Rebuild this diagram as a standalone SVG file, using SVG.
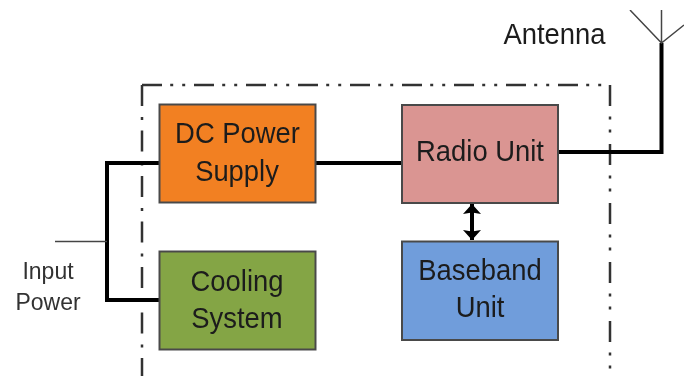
<svg xmlns="http://www.w3.org/2000/svg" width="684" height="376" viewBox="0 0 684 376">
<style>
text{font-family:"Liberation Sans",Arial,sans-serif;font-size:27.4px;fill:#1c1c1c;text-anchor:middle}
.small{font-size:23px;fill:#333}
.box{stroke:#4a4a4a;stroke-width:2}
.wire{fill:none;stroke:#000;stroke-width:4}
.thin{fill:none;stroke:#444;stroke-width:1.500}
.bd{fill:none;stroke:#333;stroke-width:2.500}
</style>
<defs>
<filter id="soft" x="0" y="0" width="100%" height="100%"><feGaussianBlur stdDeviation="0.45"/></filter>
<marker id="ah" viewBox="0 0 10 18" refX="10" refY="9" markerUnits="userSpaceOnUse" markerWidth="10" markerHeight="18" orient="auto-start-reverse">
<path d="M10 9 L0 0 L1.500 9 L0 18Z" fill="#000"/>
</marker>
</defs>
<rect width="684" height="376" fill="#fff"/>
<g filter="url(#soft)">
<g id="boundary">
<path class="bd" d="M142 85H610" stroke-dasharray="20 8.200 3 9 3 8.800"/>
<path class="bd" d="M142 85V376" stroke-dasharray="21 11 3 10.500"/>
<path class="bd" d="M610 85V376" stroke-dasharray="21 10.500 3 10 3 11.500"/>
</g>
<g id="connectors">
<path class="wire" d="M160 163H107V300H160"/>
<path class="thin" d="M55 241.500H107"/>
<path class="wire" d="M315 163H402"/>
<path class="wire" d="M558 152H661.500V43"/>
<path class="thin" d="M661.500 10V43M630 10L661.500 43L684 25"/>
<path d="M472 204V240" fill="none" stroke="#000" stroke-width="4" marker-start="url(#ah)" marker-end="url(#ah)"/>
</g>
<g id="dc-power-supply">
<rect class="box" x="159.500" y="104.500" width="156" height="98" fill="#f28024"/>
<text transform="translate(237.500 143) scale(1 1.080)">DC Power</text>
<text transform="translate(237 181) scale(1 1.080)">Supply</text>
</g>
<g id="cooling-system">
<rect class="box" x="159.500" y="251.500" width="156" height="98" fill="#84a545"/>
<text transform="translate(237 291) scale(1 1.080)">Cooling</text>
<text transform="translate(237 328) scale(1 1.080)">System</text>
</g>
<g id="radio-unit">
<rect class="box" x="402" y="105" width="156" height="98" fill="#da9592"/>
<text transform="translate(480 161) scale(1 1.080)">Radio Unit</text>
</g>
<g id="baseband-unit">
<rect class="box" x="402" y="241.500" width="156" height="98.500" fill="#6f9ddb"/>
<text transform="translate(480 280) scale(1 1.080)">Baseband</text>
<text transform="translate(480 317) scale(1 1.080)">Unit</text>
</g>
<g id="antenna-label"><text transform="translate(554.500 44) scale(1 1.080)">Antenna</text></g>
<g id="input-power-label">
<text class="small" transform="translate(48 279) scale(1 1.080)">Input</text>
<text class="small" transform="translate(48 310) scale(1 1.080)">Power</text>
</g>
</g>
</svg>
